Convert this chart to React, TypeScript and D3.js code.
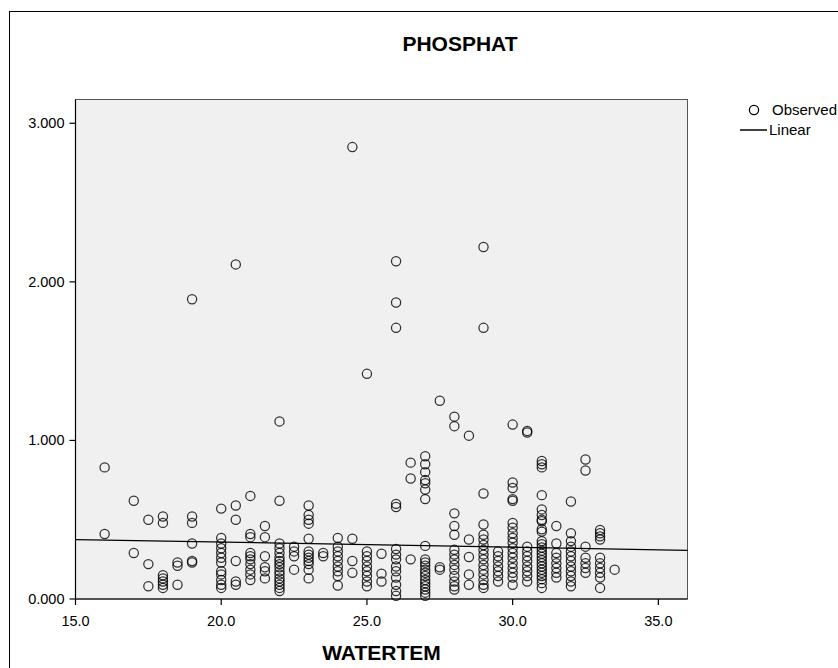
import React from "react";
import * as d3 from "d3";

// ---- data ----
const chartTitle = "PHOSPHAT";
const xTitle = "WATERTEM";
const xTicks = [15, 20, 25, 30, 35];
const yTicks = [0, 1, 2, 3];
const xDomain: [number, number] = [15, 36];
const yDomain: [number, number] = [0, 3.15];
const legendLabels = ["Observed", "Linear"];
// linear fit
const fitIntercept = 0.4236;
const fitSlope = -0.00324;

// WATERTEM value -> PHOSPHAT values observed at that temperature
const observed: [number, number[]][] = [
  [16, [0.83, 0.41]],
  [17, [0.62, 0.29]],
  [17.5, [0.5, 0.22, 0.08]],
  [18, [0.52, 0.48, 0.15, 0.13, 0.11, 0.09, 0.07]],
  [18.5, [0.23, 0.21, 0.09]],
  [19, [1.89, 0.52, 0.48, 0.35, 0.24, 0.23]],
  [20, [0.57, 0.385, 0.35, 0.32, 0.29, 0.26, 0.23, 0.175, 0.155, 0.12, 0.09, 0.07]],
  [20.5, [2.11, 0.59, 0.5, 0.24, 0.11, 0.09]],
  [21, [0.65, 0.41, 0.39, 0.29, 0.27, 0.25, 0.22, 0.185, 0.155, 0.12]],
  [21.5, [0.46, 0.39, 0.27, 0.2, 0.175, 0.13]],
  [22, [1.12, 0.62, 0.35, 0.32, 0.29, 0.26, 0.24, 0.22, 0.2, 0.175, 0.155, 0.13, 0.11, 0.09, 0.07, 0.05]],
  [22.5, [0.33, 0.3, 0.27, 0.185]],
  [23, [0.59, 0.53, 0.5, 0.475, 0.38, 0.3, 0.28, 0.26, 0.24, 0.22, 0.185, 0.13]],
  [23.5, [0.29, 0.27]],
  [24, [0.385, 0.33, 0.3, 0.27, 0.24, 0.205, 0.175, 0.145, 0.085]],
  [24.5, [2.85, 0.38, 0.24, 0.165]],
  [25, [1.42, 0.3, 0.27, 0.24, 0.205, 0.175, 0.145, 0.11, 0.08]],
  [25.5, [0.285, 0.16, 0.11]],
  [26, [2.13, 1.87, 1.71, 0.6, 0.58, 0.315, 0.28, 0.25, 0.205, 0.175, 0.135, 0.09, 0.05, 0.02]],
  [26.5, [0.86, 0.76, 0.25]],
  [27, [0.9, 0.85, 0.8, 0.75, 0.73, 0.69, 0.63, 0.335, 0.25, 0.23, 0.21, 0.185, 0.165, 0.145, 0.12, 0.1, 0.08, 0.06, 0.04, 0.02]],
  [27.5, [1.25, 0.2, 0.185]],
  [28, [1.15, 1.09, 0.54, 0.46, 0.405, 0.31, 0.28, 0.25, 0.215, 0.185, 0.145, 0.11, 0.08, 0.06]],
  [28.5, [1.03, 0.375, 0.265, 0.155, 0.09]],
  [29, [2.22, 1.71, 0.665, 0.47, 0.405, 0.375, 0.34, 0.31, 0.28, 0.25, 0.215, 0.185, 0.155, 0.12, 0.09, 0.07]],
  [29.5, [0.3, 0.27, 0.24, 0.205, 0.175, 0.145, 0.11]],
  [30, [1.1, 0.735, 0.7, 0.63, 0.62, 0.48, 0.45, 0.415, 0.385, 0.355, 0.32, 0.29, 0.26, 0.225, 0.195, 0.165, 0.135, 0.09]],
  [30.5, [1.06, 1.05, 0.33, 0.3, 0.27, 0.24, 0.205, 0.175, 0.145, 0.11]],
  [31, [0.87, 0.85, 0.83, 0.655, 0.565, 0.53, 0.5, 0.49, 0.44, 0.425, 0.365, 0.345, 0.325, 0.305, 0.285, 0.265, 0.245, 0.225, 0.205, 0.185, 0.165, 0.145, 0.125, 0.1, 0.07]],
  [31.5, [0.46, 0.35, 0.29, 0.26, 0.225, 0.195, 0.165, 0.135]],
  [32, [0.615, 0.415, 0.365, 0.33, 0.3, 0.27, 0.24, 0.205, 0.175, 0.145, 0.11, 0.08]],
  [32.5, [0.88, 0.81, 0.33, 0.26, 0.225, 0.195, 0.165]],
  [33, [0.435, 0.415, 0.395, 0.375, 0.26, 0.225, 0.195, 0.165, 0.135, 0.07]],
  [33.5, [0.185]],
];

const W = 838;
const H = 668;
const plot = { left: 75.5, right: 687.5, top: 99.5, bottom: 599 };
const FONT = "'Liberation Sans', Arial, sans-serif";

export default function App() {
  const x = d3.scaleLinear().domain(xDomain).range([plot.left, plot.right]);
  const y = d3.scaleLinear().domain(yDomain).range([plot.bottom, plot.top]);
  const points = observed.flatMap(([xv, ys]) => ys.map((yv) => [xv, yv] as [number, number]));
  const fitLine = d3
    .line<number>()
    .x((v) => x(v))
    .y((v) => y(fitIntercept + fitSlope * v));
  const fmtY = d3.format(".3f");
  const fmtX = d3.format(".1f");

  return (
    <svg
      width={W}
      height={H}
      style={{ position: "absolute", left: 0, top: 0, background: "#fff" }}
      fontFamily={FONT}
    >
      <rect x={9.5} y={11.5} width={W + 20} height={H + 20} fill="#fff" stroke="#000" strokeWidth={1} />
      <text x={460} y={51} textAnchor="middle" fontSize={21} fontWeight="bold" fill="#000">
        {chartTitle}
      </text>

      <rect
        x={plot.left}
        y={plot.top}
        width={plot.right - plot.left}
        height={plot.bottom - plot.top}
        fill="#f0f0f0"
        stroke="#555"
        strokeWidth={1}
      />

      {points.map(([xv, yv], i) => (
        <circle
          key={i}
          cx={x(xv)}
          cy={y(yv)}
          r={4.6}
          fill="none"
          stroke="#000"
          strokeOpacity={0.8}
          strokeWidth={1.25}
        />
      ))}

      <path d={fitLine(xDomain) || ""} fill="none" stroke="#000" strokeWidth={1.2} />

      {/* axes */}
      <line x1={plot.left} x2={plot.left} y1={plot.top} y2={plot.bottom} stroke="#000" strokeWidth={1.2} />
      <line x1={plot.left} x2={plot.right} y1={plot.bottom} y2={plot.bottom} stroke="#000" strokeWidth={1.2} />
      {yTicks.map((t) => (
        <g key={"y" + t}>
          <line x1={plot.left - 6} x2={plot.left} y1={y(t)} y2={y(t)} stroke="#000" strokeWidth={1.2} />
          <text x={plot.left - 11} y={y(t) + 5} textAnchor="end" fontSize={14.5} fill="#000">
            {fmtY(t)}
          </text>
        </g>
      ))}
      {xTicks.map((t) => (
        <g key={"x" + t}>
          <line x1={x(t)} x2={x(t)} y1={plot.bottom} y2={plot.bottom + 6} stroke="#000" strokeWidth={1.2} />
          <text x={x(t)} y={626} textAnchor="middle" fontSize={14.5} fill="#000">
            {fmtX(t)}
          </text>
        </g>
      ))}
      <text x={(plot.left + plot.right) / 2} y={660} textAnchor="middle" fontSize={21} fontWeight="bold" fill="#000">
        {xTitle}
      </text>

      {/* legend */}
      <circle cx={754} cy={110} r={4.6} fill="none" stroke="#000" strokeWidth={1.25} />
      <text x={772} y={115} fontSize={15} fill="#000">
        {legendLabels[0]}
      </text>
      <line x1={740} x2={767} y1={130} y2={130} stroke="#000" strokeWidth={1.5} />
      <text x={769} y={135} fontSize={15} fill="#000">
        {legendLabels[1]}
      </text>
    </svg>
  );
}
